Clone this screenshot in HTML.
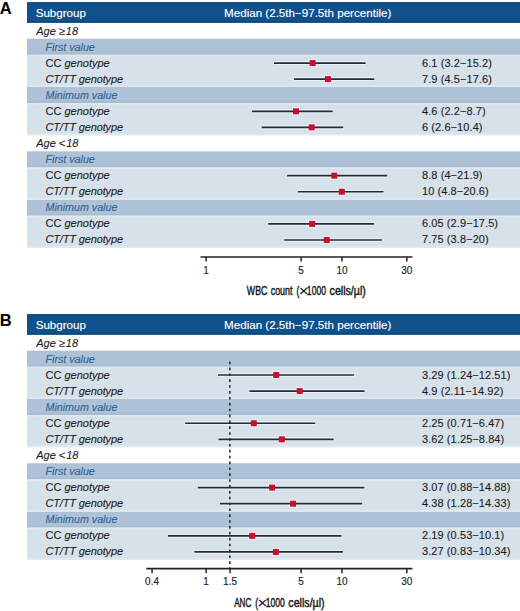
<!DOCTYPE html>
<html><head><meta charset="utf-8"><style>
html,body{margin:0;padding:0;background:#fff;}
body{width:520px;height:611px;overflow:hidden;}
svg{display:block;}
text{font-family:"Liberation Sans",sans-serif;}
.lt{font-size:15.6px;font-weight:bold;fill:#000;}
.hd{font-size:11.6px;fill:#fff;stroke:#fff;stroke-width:0.15px;}
.ag{font-size:11px;font-style:italic;fill:#1a1a1a;stroke:#1a1a1a;stroke-width:0.1px;}
.sb{font-size:10.7px;font-style:italic;fill:#2f6193;stroke:#2f6193;stroke-width:0.1px;}
.rt{font-size:11px;fill:#1a1a1a;stroke:#1a1a1a;stroke-width:0.1px;}
.it{font-style:italic;}
.vl{letter-spacing:0.08px;}
.ct{letter-spacing:-0.15px;}
.tk{font-size:10px;fill:#1a1a1a;stroke:#1a1a1a;stroke-width:0.15px;}
.xl{font-size:12px;fill:#1a1a1a;stroke:#1a1a1a;stroke-width:0.45px;}
.mx{stroke-width:0.2px;}
</style></head><body>
<svg width="520" height="611" viewBox="0 0 520 611">
<rect x="27" y="199.59" width="493" height="16.09" fill="#aec2d7"/>
<rect x="27" y="213.68" width="493" height="2" fill="#a8bbcf"/>
<rect x="27" y="215.68" width="493" height="32.18" fill="#d7e1ea"/>
<rect x="27" y="215.68" width="493" height="1.6" fill="#e0e9f1"/>
<rect x="27" y="246.26" width="493" height="1.6" fill="#e0e9f1"/>
<rect x="27" y="151.32" width="493" height="16.09" fill="#aec2d7"/>
<rect x="27" y="165.41" width="493" height="2" fill="#a8bbcf"/>
<rect x="27" y="167.41" width="493" height="32.18" fill="#d7e1ea"/>
<rect x="27" y="167.41" width="493" height="1.6" fill="#e0e9f1"/>
<rect x="27" y="197.99" width="493" height="1.6" fill="#e0e9f1"/>
<rect x="27" y="86.96" width="493" height="16.09" fill="#aec2d7"/>
<rect x="27" y="101.05" width="493" height="2" fill="#a8bbcf"/>
<rect x="27" y="103.05" width="493" height="32.18" fill="#d7e1ea"/>
<rect x="27" y="103.05" width="493" height="1.6" fill="#e0e9f1"/>
<rect x="27" y="133.63" width="493" height="1.6" fill="#e0e9f1"/>
<rect x="27" y="38.69" width="493" height="16.09" fill="#aec2d7"/>
<rect x="27" y="52.78" width="493" height="2" fill="#a8bbcf"/>
<rect x="27" y="54.78" width="493" height="32.18" fill="#d7e1ea"/>
<rect x="27" y="54.78" width="493" height="1.6" fill="#e0e9f1"/>
<rect x="27" y="85.36" width="493" height="1.6" fill="#e0e9f1"/>
<text x="0" y="0" class="lt" transform="translate(-0.2 13.75) scale(1.06 1)">A</text>
<rect x="27" y="2.30" width="493" height="20.4" fill="#0f518a"/>
<rect x="27" y="2.30" width="493" height="1.2" fill="#0b4476"/>
<rect x="27" y="21.50" width="493" height="1.2" fill="#0b4476"/>
<text x="35.7" y="16.90" class="hd">Subgroup</text>
<text x="224.1" y="16.90" class="hd">Median (2.5th−97.5th percentile)</text>
<text x="36.2" y="34.60" class="ag">Age ≥<tspan dx="0.9">18</tspan></text>
<text x="45.5" y="50.60" class="sb">First value</text>
<text x="45.5" y="66.60" class="rt">CC <tspan class="it">genotype</tspan></text>
<line x1="273.47" x2="366.12" y1="63.03" y2="63.03" stroke="#e9f0f6" stroke-width="4"/>
<rect x="308.64" y="59.03" width="8" height="8" fill="#eef2f6"/>
<line x1="273.97" x2="365.62" y1="63.03" y2="63.03" stroke="#252a33" stroke-width="1.7"/>
<rect x="309.64" y="60.03" width="6" height="6" fill="#c8102e"/>
<text x="422.0" y="66.60" class="rt vl">6.1 (3.2−15.2)</text>
<text x="45.5" y="82.60" class="rt it ct">CT/TT genotype</text>
<line x1="293.59" x2="374.77" y1="79.12" y2="79.12" stroke="#e9f0f6" stroke-width="4"/>
<rect x="323.90" y="75.12" width="8" height="8" fill="#eef2f6"/>
<line x1="294.09" x2="374.27" y1="79.12" y2="79.12" stroke="#252a33" stroke-width="1.7"/>
<rect x="324.90" y="76.12" width="6" height="6" fill="#c8102e"/>
<text x="422.0" y="82.60" class="rt vl">7.9 (4.5−17.6)</text>
<text x="45.5" y="98.60" class="sb">Minimum value</text>
<text x="45.5" y="114.60" class="rt">CC <tspan class="it">genotype</tspan></text>
<line x1="251.36" x2="333.19" y1="111.30" y2="111.30" stroke="#e9f0f6" stroke-width="4"/>
<rect x="291.99" y="107.30" width="8" height="8" fill="#eef2f6"/>
<line x1="251.86" x2="332.69" y1="111.30" y2="111.30" stroke="#252a33" stroke-width="1.7"/>
<rect x="292.99" y="108.30" width="6" height="6" fill="#c8102e"/>
<text x="422.0" y="114.60" class="rt vl">4.6 (2.2−8.7)</text>
<text x="45.5" y="130.60" class="rt it ct">CT/TT genotype</text>
<line x1="261.22" x2="343.72" y1="127.38" y2="127.38" stroke="#e9f0f6" stroke-width="4"/>
<rect x="307.67" y="123.38" width="8" height="8" fill="#eef2f6"/>
<line x1="261.72" x2="343.22" y1="127.38" y2="127.38" stroke="#252a33" stroke-width="1.7"/>
<rect x="308.67" y="124.38" width="6" height="6" fill="#c8102e"/>
<text x="422.0" y="130.60" class="rt vl">6 (2.6−10.4)</text>
<text x="36.2" y="146.60" class="ag">Age &lt;<tspan dx="0.9">18</tspan></text>
<text x="45.5" y="162.60" class="sb">First value</text>
<text x="45.5" y="178.60" class="rt">CC <tspan class="it">genotype</tspan></text>
<line x1="286.64" x2="387.67" y1="175.65" y2="175.65" stroke="#e9f0f6" stroke-width="4"/>
<rect x="330.27" y="171.65" width="8" height="8" fill="#eef2f6"/>
<line x1="287.14" x2="387.17" y1="175.65" y2="175.65" stroke="#252a33" stroke-width="1.7"/>
<rect x="331.27" y="172.65" width="6" height="6" fill="#c8102e"/>
<text x="422.0" y="178.60" class="rt vl">8.8 (4−21.9)</text>
<text x="45.5" y="194.60" class="rt it ct">CT/TT genotype</text>
<line x1="297.40" x2="384.06" y1="191.74" y2="191.74" stroke="#e9f0f6" stroke-width="4"/>
<rect x="337.81" y="187.74" width="8" height="8" fill="#eef2f6"/>
<line x1="297.90" x2="383.56" y1="191.74" y2="191.74" stroke="#252a33" stroke-width="1.7"/>
<rect x="338.81" y="188.74" width="6" height="6" fill="#c8102e"/>
<text x="422.0" y="194.60" class="rt vl">10 (4.8−20.6)</text>
<text x="45.5" y="210.60" class="sb">Minimum value</text>
<text x="45.5" y="226.60" class="rt">CC <tspan class="it">genotype</tspan></text>
<line x1="267.66" x2="374.43" y1="223.92" y2="223.92" stroke="#e9f0f6" stroke-width="4"/>
<rect x="308.15" y="219.92" width="8" height="8" fill="#eef2f6"/>
<line x1="268.16" x2="373.93" y1="223.92" y2="223.92" stroke="#252a33" stroke-width="1.7"/>
<rect x="309.15" y="220.92" width="6" height="6" fill="#c8102e"/>
<text x="422.0" y="226.60" class="rt vl">6.05 (2.9−17.5)</text>
<text x="45.5" y="242.60" class="rt it ct">CT/TT genotype</text>
<line x1="283.61" x2="382.31" y1="240.01" y2="240.01" stroke="#e9f0f6" stroke-width="4"/>
<rect x="322.77" y="236.01" width="8" height="8" fill="#eef2f6"/>
<line x1="284.11" x2="381.81" y1="240.01" y2="240.01" stroke="#252a33" stroke-width="1.7"/>
<rect x="323.77" y="237.01" width="6" height="6" fill="#c8102e"/>
<text x="422.0" y="242.60" class="rt vl">7.75 (3.8−20)</text>
<line x1="200.43" x2="412.44" y1="257.00" y2="257.00" stroke="#222222" stroke-width="1.7"/>
<line x1="206.13" x2="206.13" y1="257.00" y2="261.60" stroke="#222222" stroke-width="1.5"/>
<text x="206.13" y="273.50" class="tk" text-anchor="middle">1</text>
<line x1="301.11" x2="301.11" y1="257.00" y2="261.60" stroke="#222222" stroke-width="1.5"/>
<text x="301.11" y="273.50" class="tk" text-anchor="middle">5</text>
<line x1="342.01" x2="342.01" y1="257.00" y2="261.60" stroke="#222222" stroke-width="1.5"/>
<text x="342.01" y="273.50" class="tk" text-anchor="middle">10</text>
<line x1="406.84" x2="406.84" y1="257.00" y2="261.60" stroke="#222222" stroke-width="1.5"/>
<text x="406.84" y="273.50" class="tk" text-anchor="middle">30</text>
<text x="0" y="0" class="xl" style="font-size:12.4px" transform="translate(246.83 295.10) scale(0.713 1)">WBC</text>
<text x="0" y="0" class="xl" style="font-size:12.4px" transform="translate(270.73 295.10) scale(0.716 1)">count</text>
<text x="0" y="0" class="xl" style="font-size:12.4px" transform="translate(296.50 295.10) scale(0.696 1)">(</text>
<text x="0" y="0" class="xl mx" style="font-size:14.6px" transform="translate(298.91 296.00) scale(1.086 1)">×</text>
<text x="0" y="0" class="xl" style="font-size:12.4px" transform="translate(306.86 295.10) scale(0.692 1)">1000</text>
<text x="0" y="0" class="xl" style="font-size:12.4px" transform="translate(329.56 295.10) scale(0.858 1)">cells/µl)</text>
<rect x="27" y="511.54" width="493" height="16.09" fill="#aec2d7"/>
<rect x="27" y="525.63" width="493" height="2" fill="#a8bbcf"/>
<rect x="27" y="527.63" width="493" height="32.18" fill="#d7e1ea"/>
<rect x="27" y="527.63" width="493" height="1.6" fill="#e0e9f1"/>
<rect x="27" y="558.21" width="493" height="1.6" fill="#e0e9f1"/>
<rect x="27" y="463.27" width="493" height="16.09" fill="#aec2d7"/>
<rect x="27" y="477.36" width="493" height="2" fill="#a8bbcf"/>
<rect x="27" y="479.36" width="493" height="32.18" fill="#d7e1ea"/>
<rect x="27" y="479.36" width="493" height="1.6" fill="#e0e9f1"/>
<rect x="27" y="509.94" width="493" height="1.6" fill="#e0e9f1"/>
<rect x="27" y="398.91" width="493" height="16.09" fill="#aec2d7"/>
<rect x="27" y="413.00" width="493" height="2" fill="#a8bbcf"/>
<rect x="27" y="415.00" width="493" height="32.18" fill="#d7e1ea"/>
<rect x="27" y="415.00" width="493" height="1.6" fill="#e0e9f1"/>
<rect x="27" y="445.58" width="493" height="1.6" fill="#e0e9f1"/>
<rect x="27" y="350.64" width="493" height="16.09" fill="#aec2d7"/>
<rect x="27" y="364.73" width="493" height="2" fill="#a8bbcf"/>
<rect x="27" y="366.73" width="493" height="32.18" fill="#d7e1ea"/>
<rect x="27" y="366.73" width="493" height="1.6" fill="#e0e9f1"/>
<rect x="27" y="397.31" width="493" height="1.6" fill="#e0e9f1"/>
<text x="0" y="0" class="lt" transform="translate(-0.2 325.70) scale(1.06 1)">B</text>
<rect x="27" y="314.25" width="493" height="20.4" fill="#0f518a"/>
<rect x="27" y="314.25" width="493" height="1.2" fill="#0b4476"/>
<rect x="27" y="333.45" width="493" height="1.2" fill="#0b4476"/>
<text x="35.7" y="328.85" class="hd">Subgroup</text>
<text x="224.1" y="328.85" class="hd">Median (2.5th−97.5th percentile)</text>
<text x="36.2" y="346.55" class="ag">Age ≥<tspan dx="0.9">18</tspan></text>
<text x="45.5" y="362.55" class="sb">First value</text>
<text x="45.5" y="378.55" class="rt">CC <tspan class="it">genotype</tspan></text>
<line x1="217.52" x2="354.63" y1="374.98" y2="374.98" stroke="#e9f0f6" stroke-width="4"/>
<rect x="272.21" y="370.98" width="8" height="8" fill="#eef2f6"/>
<line x1="218.02" x2="354.13" y1="374.98" y2="374.98" stroke="#252a33" stroke-width="1.7"/>
<rect x="273.21" y="371.98" width="6" height="6" fill="#c8102e"/>
<text x="422.0" y="378.55" class="rt vl">3.29 (1.24−12.51)</text>
<text x="45.5" y="394.55" class="rt it ct">CT/TT genotype</text>
<line x1="248.89" x2="365.02" y1="391.06" y2="391.06" stroke="#e9f0f6" stroke-width="4"/>
<rect x="295.71" y="387.06" width="8" height="8" fill="#eef2f6"/>
<line x1="249.39" x2="364.52" y1="391.06" y2="391.06" stroke="#252a33" stroke-width="1.7"/>
<rect x="296.71" y="388.06" width="6" height="6" fill="#c8102e"/>
<text x="422.0" y="394.55" class="rt vl">4.9 (2.11−14.92)</text>
<text x="45.5" y="410.55" class="sb">Minimum value</text>
<text x="45.5" y="426.55" class="rt">CC <tspan class="it">genotype</tspan></text>
<line x1="184.62" x2="315.72" y1="423.25" y2="423.25" stroke="#e9f0f6" stroke-width="4"/>
<rect x="249.78" y="419.25" width="8" height="8" fill="#eef2f6"/>
<line x1="185.12" x2="315.22" y1="423.25" y2="423.25" stroke="#252a33" stroke-width="1.7"/>
<rect x="250.78" y="420.25" width="6" height="6" fill="#c8102e"/>
<text x="422.0" y="426.55" class="rt vl">2.25 (0.71−6.47)</text>
<text x="45.5" y="442.55" class="rt it ct">CT/TT genotype</text>
<line x1="218.00" x2="334.13" y1="439.34" y2="439.34" stroke="#e9f0f6" stroke-width="4"/>
<rect x="277.85" y="435.34" width="8" height="8" fill="#eef2f6"/>
<line x1="218.50" x2="333.63" y1="439.34" y2="439.34" stroke="#252a33" stroke-width="1.7"/>
<rect x="278.85" y="436.34" width="6" height="6" fill="#c8102e"/>
<text x="422.0" y="442.55" class="rt vl">3.62 (1.25−8.84)</text>
<text x="36.2" y="458.55" class="ag">Age &lt;<tspan dx="0.9">18</tspan></text>
<text x="45.5" y="474.55" class="sb">First value</text>
<text x="45.5" y="490.55" class="rt">CC <tspan class="it">genotype</tspan></text>
<line x1="197.29" x2="364.86" y1="487.61" y2="487.61" stroke="#e9f0f6" stroke-width="4"/>
<rect x="268.12" y="483.61" width="8" height="8" fill="#eef2f6"/>
<line x1="197.79" x2="364.36" y1="487.61" y2="487.61" stroke="#252a33" stroke-width="1.7"/>
<rect x="269.12" y="484.61" width="6" height="6" fill="#c8102e"/>
<text x="422.0" y="490.55" class="rt vl">3.07 (0.88−14.88)</text>
<text x="45.5" y="506.55" class="rt it ct">CT/TT genotype</text>
<line x1="219.40" x2="362.64" y1="503.70" y2="503.70" stroke="#e9f0f6" stroke-width="4"/>
<rect x="289.09" y="499.70" width="8" height="8" fill="#eef2f6"/>
<line x1="219.90" x2="362.14" y1="503.70" y2="503.70" stroke="#252a33" stroke-width="1.7"/>
<rect x="290.09" y="500.70" width="6" height="6" fill="#c8102e"/>
<text x="422.0" y="506.55" class="rt vl">4.38 (1.28−14.33)</text>
<text x="45.5" y="522.55" class="sb">Minimum value</text>
<text x="45.5" y="538.55" class="rt">CC <tspan class="it">genotype</tspan></text>
<line x1="167.36" x2="342.00" y1="535.88" y2="535.88" stroke="#e9f0f6" stroke-width="4"/>
<rect x="248.19" y="531.88" width="8" height="8" fill="#eef2f6"/>
<line x1="167.86" x2="341.50" y1="535.88" y2="535.88" stroke="#252a33" stroke-width="1.7"/>
<rect x="249.19" y="532.88" width="6" height="6" fill="#c8102e"/>
<text x="422.0" y="538.55" class="rt vl">2.19 (0.53−10.1)</text>
<text x="45.5" y="554.55" class="rt it ct">CT/TT genotype</text>
<line x1="193.83" x2="343.38" y1="551.97" y2="551.97" stroke="#e9f0f6" stroke-width="4"/>
<rect x="271.85" y="547.97" width="8" height="8" fill="#eef2f6"/>
<line x1="194.33" x2="342.88" y1="551.97" y2="551.97" stroke="#252a33" stroke-width="1.7"/>
<rect x="272.85" y="548.97" width="6" height="6" fill="#c8102e"/>
<text x="422.0" y="554.55" class="rt vl">3.27 (0.83−10.34)</text>
<line x1="229.86" x2="229.86" y1="361.75" y2="568.60" stroke="#252a33" stroke-width="1.6" stroke-dasharray="2.6 3.27"/>
<line x1="146.36" x2="412.44" y1="568.60" y2="568.60" stroke="#222222" stroke-width="1.7"/>
<line x1="152.06" x2="152.06" y1="568.60" y2="573.20" stroke="#222222" stroke-width="1.5"/>
<text x="152.06" y="585.10" class="tk" text-anchor="middle">0.4</text>
<line x1="206.13" x2="206.13" y1="568.60" y2="573.20" stroke="#222222" stroke-width="1.5"/>
<text x="206.13" y="585.10" class="tk" text-anchor="middle">1</text>
<line x1="230.06" x2="230.06" y1="568.60" y2="573.20" stroke="#222222" stroke-width="1.5"/>
<text x="230.06" y="585.10" class="tk" text-anchor="middle">1.5</text>
<line x1="301.11" x2="301.11" y1="568.60" y2="573.20" stroke="#222222" stroke-width="1.5"/>
<text x="301.11" y="585.10" class="tk" text-anchor="middle">5</text>
<line x1="342.01" x2="342.01" y1="568.60" y2="573.20" stroke="#222222" stroke-width="1.5"/>
<text x="342.01" y="585.10" class="tk" text-anchor="middle">10</text>
<line x1="406.84" x2="406.84" y1="568.60" y2="573.20" stroke="#222222" stroke-width="1.5"/>
<text x="406.84" y="585.10" class="tk" text-anchor="middle">30</text>
<text x="0" y="0" class="xl" style="font-size:12.4px" transform="translate(234.13 607.05) scale(0.663 1)">ANC</text>
<text x="0" y="0" class="xl" style="font-size:12.4px" transform="translate(255.30 607.05) scale(0.696 1)">(</text>
<text x="0" y="0" class="xl mx" style="font-size:14.6px" transform="translate(257.71 607.95) scale(1.086 1)">×</text>
<text x="0" y="0" class="xl" style="font-size:12.4px" transform="translate(265.66 607.05) scale(0.692 1)">1000</text>
<text x="0" y="0" class="xl" style="font-size:12.4px" transform="translate(288.36 607.05) scale(0.858 1)">cells/µl)</text>
</svg>
</body></html>
